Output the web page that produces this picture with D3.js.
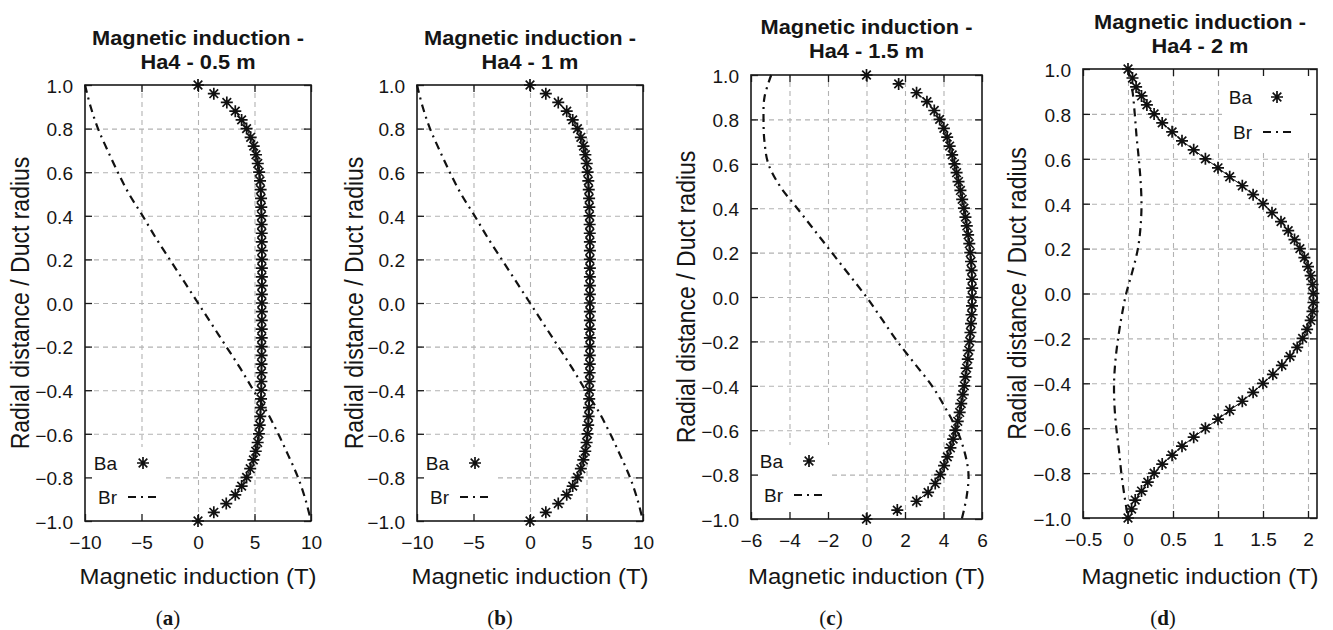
<!DOCTYPE html>
<html lang="en">
<head>
    <meta charset="UTF-8">
    <title>Magnetic induction - Ha4</title>
    <script src="https://d3js.org/d3.v7.min.js"></script>
    <style>
        body { margin: 0; background: #fff; }
        svg { display: block; }
        text { font-family: "Liberation Sans", Arial, sans-serif; fill: #151515; }
        .grid line { stroke: #b2b2b2; stroke-width: 1.1; stroke-dasharray: 5, 4; }
        .grid path, .ticks path { display: none; }
        .ticks line { stroke: #1a1a1a; stroke-width: 1.3; }
        .frame { fill: none; stroke: #1a1a1a; stroke-width: 1.6; }
        .ba-line { fill: none; stroke: #111; stroke-width: 1; }
        .star { fill: none; stroke: #111; stroke-width: 1.7; }
        .br-line { fill: none; stroke: #111; stroke-width: 2.2; stroke-dasharray: 8, 5, 2, 5; }
        .sub { font-family: "Liberation Serif", "DejaVu Serif", serif; }
    </style>
</head>
<body>
<svg id="chart" width="1333" height="630"></svg>
<script>
    // radial positions of the Ba points (r / R)
    const radius = [1.00, 0.96, 0.92, 0.88, 0.84, 0.80, 0.76, 0.72, 0.68, 0.64, 0.60, 0.56, 0.52,
        0.48, 0.44, 0.40, 0.36, 0.32, 0.28, 0.24, 0.20, 0.16, 0.12, 0.08, 0.04, 0.00,
        -0.04, -0.08, -0.12, -0.16, -0.20, -0.24, -0.28, -0.32, -0.36, -0.40, -0.44, -0.48, -0.52,
        -0.56, -0.60, -0.64, -0.68, -0.72, -0.76, -0.80, -0.84, -0.88, -0.92, -0.96, -1.00];
    // radial positions of the Br curve
    const radiusBr = [1.0, 0.9, 0.8, 0.7, 0.6, 0.5, 0.4, 0.3, 0.2, 0.1, 0.0,
        -0.1, -0.2, -0.3, -0.4, -0.5, -0.6, -0.7, -0.8, -0.9, -1.0];

    // Ba (T)
    const baA = [0.00, 1.40, 2.55, 3.30, 3.86, 4.30, 4.66, 4.93, 5.13, 5.29, 5.41, 5.49, 5.54,
        5.58, 5.60, 5.62, 5.63, 5.64, 5.64, 5.65, 5.65, 5.65, 5.65, 5.65, 5.65, 5.65,
        5.65, 5.64, 5.64, 5.64, 5.63, 5.63, 5.62, 5.62, 5.61, 5.60, 5.58, 5.55, 5.51,
        5.46, 5.39, 5.28, 5.11, 4.90, 4.62, 4.30, 3.86, 3.30, 2.50, 1.40, 0.00];
    const baB = [0.00, 1.40, 2.50, 3.25, 3.78, 4.20, 4.50, 4.73, 4.90, 5.02, 5.10, 5.16, 5.20,
        5.23, 5.25, 5.27, 5.28, 5.29, 5.30, 5.30, 5.30, 5.30, 5.30, 5.30, 5.30, 5.30,
        5.30, 5.30, 5.30, 5.30, 5.30, 5.29, 5.29, 5.28, 5.27, 5.26, 5.24, 5.22, 5.19,
        5.15, 5.09, 5.01, 4.89, 4.72, 4.50, 4.20, 3.78, 3.25, 2.50, 1.40, 0.00];
    const baC = [0.00, 1.67, 2.60, 3.14, 3.52, 3.80, 4.02, 4.19, 4.32, 4.45, 4.57, 4.68, 4.78,
        4.88, 4.97, 5.06, 5.14, 5.21, 5.28, 5.34, 5.39, 5.43, 5.46, 5.48, 5.49, 5.49,
        5.48, 5.46, 5.43, 5.40, 5.36, 5.31, 5.26, 5.20, 5.14, 5.08, 5.00, 4.92, 4.84,
        4.74, 4.62, 4.50, 4.36, 4.20, 4.03, 3.83, 3.57, 3.20, 2.60, 1.60, 0.00];
    const baD = [0.00, 0.05, 0.09, 0.15, 0.21, 0.29, 0.38, 0.49, 0.60, 0.73, 0.86, 1.00, 1.13,
        1.27, 1.39, 1.50, 1.60, 1.70, 1.78, 1.85, 1.91, 1.96, 2.00, 2.03, 2.05, 2.06,
        2.06, 2.05, 2.03, 1.99, 1.94, 1.88, 1.80, 1.71, 1.61, 1.50, 1.39, 1.27, 1.13,
        1.00, 0.86, 0.73, 0.60, 0.49, 0.38, 0.29, 0.22, 0.15, 0.08, 0.04, 0.00];

    // Br (T)
    const brA = [-10, -9.5, -8.85, -8.0, -7.1, -6.1, -4.9, -3.75, -2.5, -1.25, 0,
        1.25, 2.5, 3.75, 4.9, 6.1, 7.1, 8.0, 8.85, 9.5, 10];
    const brB = [-10, -9.5, -8.85, -8.0, -7.1, -6.1, -4.9, -3.75, -2.5, -1.25, 0,
        1.25, 2.5, 3.75, 4.9, 6.1, 7.1, 8.0, 8.85, 9.5, 10];
    const brC = [-4.95, -5.3, -5.35, -5.3, -5.1, -4.5, -3.6, -2.7, -1.8, -0.9, 0,
        0.8, 1.6, 2.5, 3.4, 4.1, 4.7, 5.1, 5.3, 5.2, 4.95];
    const brD = [0, 0.05, 0.075, 0.095, 0.12, 0.14, 0.15, 0.14, 0.11, 0.05, -0.02,
        -0.07, -0.11, -0.14, -0.155, -0.15, -0.13, -0.10, -0.074, -0.04, 0];

    // tick labels
    const yTicks = [-1.0, -0.8, -0.6, -0.4, -0.2, 0.0, 0.2, 0.4, 0.6, 0.8, 1.0];
    const xTicksAB = [-10, -5, 0, 5, 10];
    const xTicksC = [-6, -4, -2, 0, 2, 4, 6];
    const xTicksD = [-0.5, 0, 0.5, 1, 1.5, 2];

    const titleTop = "Magnetic induction -";
    const titles = ["Ha4 - 0.5 m", "Ha4 - 1 m", "Ha4 - 1.5 m", "Ha4 - 2 m"];
    const subLabels = ["a", "b", "c", "d"];
    const seriesNames = ["Ba", "Br"];
    const xLabel = "Magnetic induction (T)";
    const yLabel = "Radial distance / Duct radius";

    // layout of the four panels (pixels)
    const panels = [
        { ba: baA, br: brA, xDomain: [-10, 10], xTicks: xTicksAB, fmt: d3.format("d"),
          left: 85, right: 311, top: 85, bottom: 521, titleY: 45, yLabX: 21, subX: 168, legend: "bl" },
        { ba: baB, br: brB, xDomain: [-10, 10], xTicks: xTicksAB, fmt: d3.format("d"),
          left: 417, right: 643, top: 85, bottom: 521, titleY: 45, yLabX: 355, subX: 500, legend: "bl" },
        { ba: baC, br: brC, xDomain: [-6, 6], xTicks: xTicksC, fmt: d3.format("d"),
          left: 751, right: 982, top: 75, bottom: 519, titleY: 33.5, yLabX: 687, subX: 831, legend: "bl" },
        { ba: baD, br: brD, xDomain: [-0.5, 2.1], xTicks: xTicksD, fmt: d3.format("~g"),
          left: 1083, right: 1317, top: 69, bottom: 518, titleY: 28.5, yLabX: 1018, subX: 1163, legend: "tr" }
    ];

    const svg = d3.select("#chart");
    svg.append("rect").attr("width", 1333).attr("height", 630).attr("fill", "#fff");

    const starPath = "M-6,0H6M0,-6V6M-4.3,-4.3L4.3,4.3M-4.3,4.3L4.3,-4.3";
    const SX = 1.09;   // the original figure is slightly stretched horizontally

    panels.forEach((p, i) => {
        const g = svg.append("g");
        const x = d3.scaleLinear().domain(p.xDomain).range([p.left, p.right]);
        const y = d3.scaleLinear().domain([-1, 1]).range([p.bottom, p.top]);
        const w = p.right - p.left, h = p.bottom - p.top;

        // dashed grid
        g.append("g").attr("class", "grid")
            .attr("transform", `translate(0,${p.bottom})`)
            .call(d3.axisBottom(x).tickValues(p.xTicks.filter(v => v > p.xDomain[0] && v < p.xDomain[1]))
                .tickSize(-h).tickFormat(""));
        g.append("g").attr("class", "grid")
            .attr("transform", `translate(${p.left},0)`)
            .call(d3.axisLeft(y).tickValues(yTicks.filter(v => v > -1 && v < 1))
                .tickSize(-w).tickFormat(""));

        // opaque key box
        const key = p.legend === "bl"
            ? { x: p.left + 1, y: p.bottom - 74, w: 80, h: 73 }
            : { x: p.right - 95, y: p.top + 1, w: 94, h: 80 };
        g.append("rect").attr("x", key.x).attr("y", key.y).attr("width", key.w).attr("height", key.h)
            .attr("fill", "#fff");

        // ticks and labels
        const bottomAxis = g.append("g").attr("class", "ticks")
            .attr("transform", `translate(0,${p.bottom})`)
            .call(d3.axisBottom(x).tickValues(p.xTicks).tickSizeInner(-7).tickSizeOuter(0)
                .tickPadding(16).tickFormat(p.fmt));
        const leftAxis = g.append("g").attr("class", "ticks")
            .attr("transform", `translate(${p.left},0)`)
            .call(d3.axisLeft(y).tickValues(yTicks).tickSizeInner(-7).tickSizeOuter(0)
                .tickPadding(11).tickFormat(d3.format(".1f")));
        g.append("g").attr("class", "ticks")
            .attr("transform", `translate(0,${p.top})`)
            .call(d3.axisTop(x).tickValues(p.xTicks).tickSizeInner(-7).tickSizeOuter(0).tickFormat(""));
        g.append("g").attr("class", "ticks")
            .attr("transform", `translate(${p.right},0)`)
            .call(d3.axisRight(y).tickValues(yTicks).tickSizeInner(-7).tickSizeOuter(0).tickFormat(""));

        [bottomAxis, leftAxis].forEach(ax => {
            ax.attr("font-family", null).attr("font-size", null);
            ax.selectAll("text").style("font-size", "17.5px").attr("fill", "#151515")
                .attr("transform", `scale(${SX},1)`);
        });
        leftAxis.selectAll("text").attr("dy", "0.42em");

        g.append("rect").attr("class", "frame")
            .attr("x", p.left).attr("y", p.top).attr("width", w).attr("height", h);

        // Br: dash-dot curve
        const brLine = d3.line().curve(d3.curveCatmullRom)
            .x(d => x(d[0])).y(d => y(d[1]));
        g.append("path").attr("class", "br-line")
            .attr("d", brLine(p.br.map((v, k) => [v, radiusBr[k]])));

        // Ba: thin line through the inner points + star markers
        const baPts = p.ba.map((v, k) => [v, radius[k]]);
        g.append("path").attr("class", "ba-line")
            .attr("d", d3.line().x(d => x(d[0])).y(d => y(d[1]))(baPts.slice(2, baPts.length - 2)));
        g.selectAll(".star").data(baPts).join("path")
            .attr("class", "star")
            .attr("transform", d => `translate(${x(d[0])},${y(d[1])})`)
            .attr("d", starPath);

        // key
        let k0;
        if (p.legend === "bl") {
            k0 = { tx: p.left + 32, y1: p.bottom - 58, y2: p.bottom - 24, sx: p.left + 58, l1: p.left + 43, l2: p.left + 74 };
        } else {
            k0 = { tx: p.right - 65, y1: p.top + 28, y2: p.top + 63, sx: p.right - 40, l1: p.right - 54, l2: p.right - 23 };
        }
        [k0.y1, k0.y2].forEach((ky, j) => {
            g.append("text")
                .attr("transform", `translate(${k0.tx},${ky + 6.5}) scale(${SX},1)`)
                .attr("text-anchor", "end")
                .style("font-size", "17.5px")
                .text(seriesNames[j]);
        });
        g.append("path").attr("class", "star")
            .attr("transform", `translate(${k0.sx},${k0.y1})`).attr("d", starPath);
        g.append("line").attr("class", "br-line")
            .attr("x1", k0.l1).attr("x2", k0.l2).attr("y1", k0.y2).attr("y2", k0.y2);

        // titles
        const cx = (p.left + p.right) / 2;
        [titleTop, titles[i]].forEach((t, j) => {
            g.append("text")
                .attr("transform", `translate(${cx},${p.titleY + j * 24}) scale(${SX},1)`)
                .attr("text-anchor", "middle")
                .style("font-size", "20px").style("font-weight", "bold")
                .text(t);
        });

        // axis labels
        g.append("text")
            .attr("transform", `translate(${cx},584) scale(${SX},1)`)
            .attr("text-anchor", "middle")
            .style("font-size", "22px")
            .text(xLabel);
        g.append("text")
            .attr("transform", `translate(${p.yLabX + 8},${(p.top + p.bottom) / 2}) rotate(-90) scale(1,${SX})`)
            .attr("text-anchor", "middle")
            .style("font-size", "23px")
            .text(yLabel);

        // sub-figure label
        const sub = g.append("text").attr("class", "sub")
            .attr("x", p.subX).attr("y", 625)
            .attr("text-anchor", "middle")
            .style("font-size", "21px");
        sub.append("tspan").text("(");
        sub.append("tspan").style("font-weight", "bold").text(subLabels[i]);
        sub.append("tspan").text(")");
    });
</script>
</body>
</html>
